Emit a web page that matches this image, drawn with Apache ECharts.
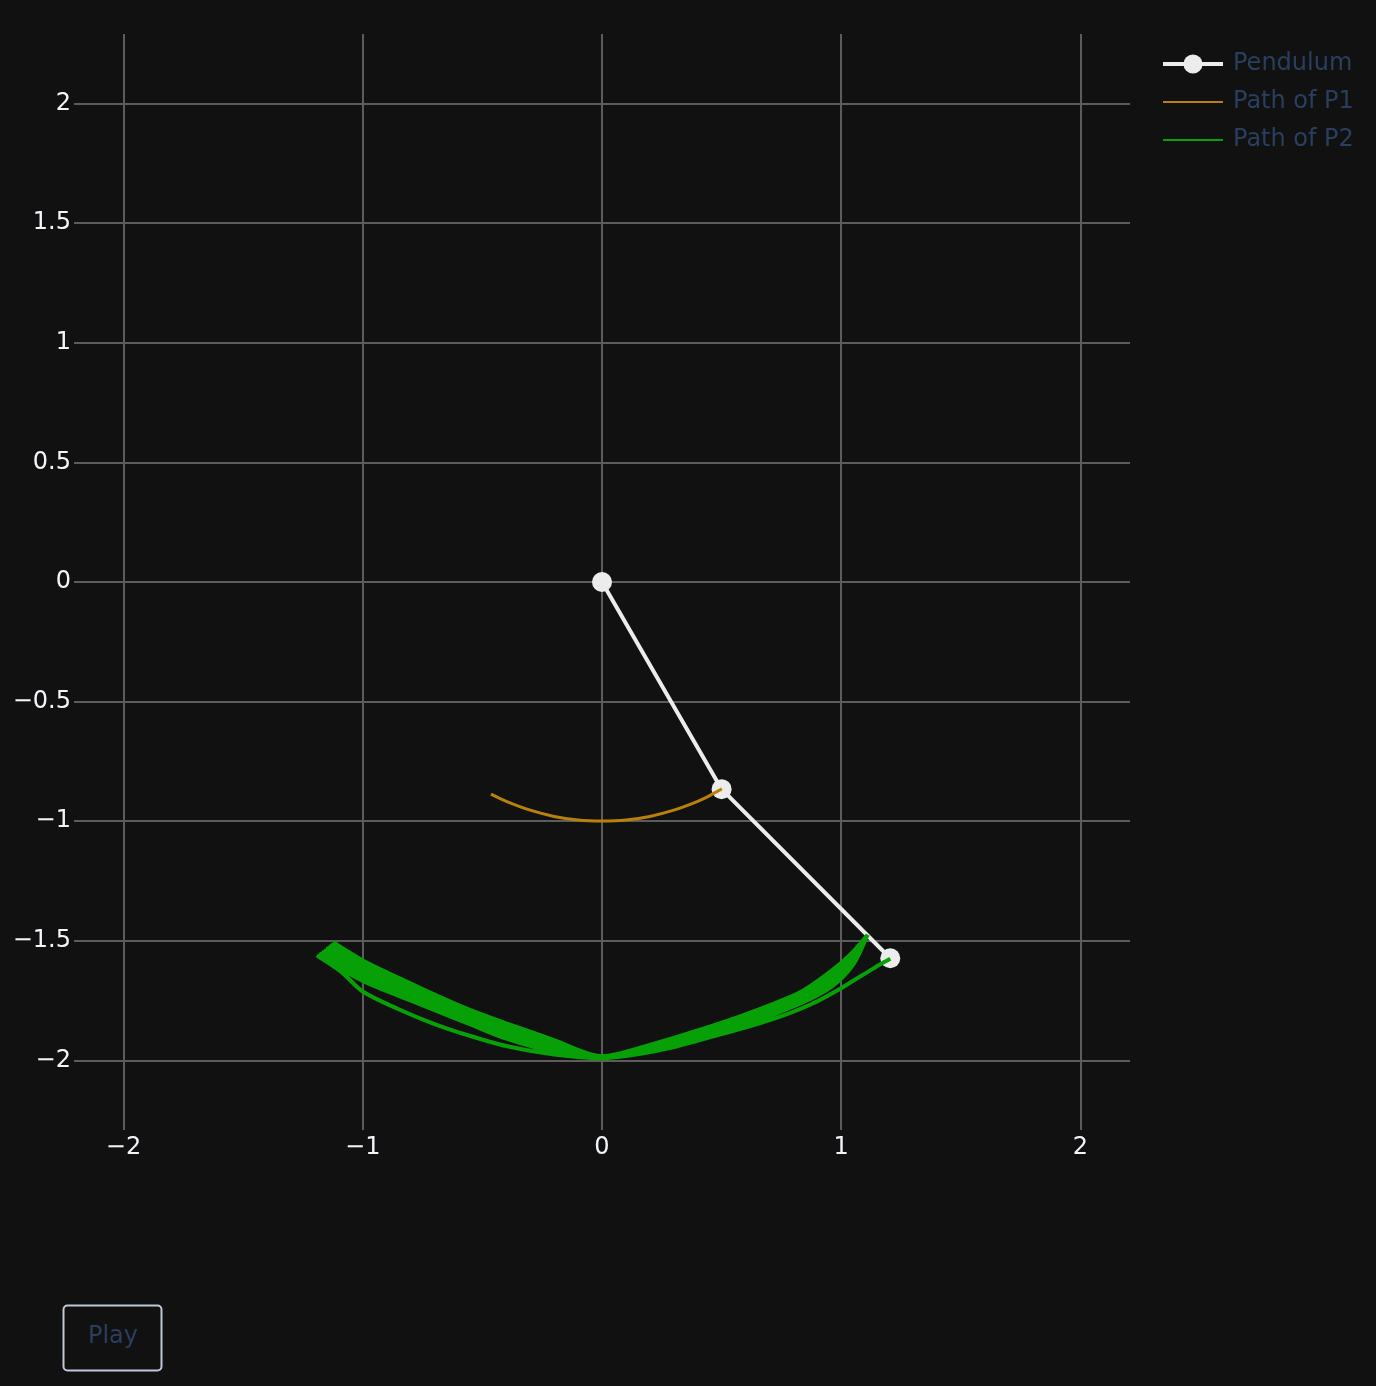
<!DOCTYPE html>
<html>
<head>
<meta charset="utf-8">
<script src="https://cdn.jsdelivr.net/npm/echarts/dist/echarts.min.js"></script>
<style>
html,body{margin:0;padding:0;background:#111111;}
#chart{width:1376px;height:1386px;}
</style>
</head>
<body>
<div id="chart"></div>
<script>
// ---- Data ----
// Pendulum (current frame): pivot, P1, P2
const pendulumX = [0, 0.5, 1.205];
const pendulumY = [0, -0.866, -1.573];

// Path of P1 (arc)
const p1PathX = [0.501, 0.45, 0.4, 0.3, 0.2, 0.1, 0, -0.1, -0.2, -0.3, -0.4, -0.464];
const p1PathY = [-0.865, -0.893, -0.917, -0.954, -0.980, -0.995, -0.999, -0.995, -0.980, -0.954, -0.917, -0.887];

// Path of P2: first swing (from start position, lower bands) to the first left tip
const p2StartX = [1.205, 1.160, 1.108, 1.050, 0.996, 0.885, 0.759, 0.620, 0.481, 0.272, 0.100, 0, -0.200, -0.400, -0.550, -0.700, -0.850, -1.000, -1.090, -1.192];
const p2StartY = [-1.575, -1.600, -1.632, -1.667, -1.700, -1.760, -1.812, -1.857, -1.895, -1.951, -1.982, -1.990, -1.975, -1.940, -1.898, -1.848, -1.786, -1.712, -1.630, -1.561];

// Left turning points of P2
const p2LeftTipX = [-1.192, -1.183, -1.173, -1.164, -1.154, -1.143, -1.134, -1.124];
const p2LeftTipY = [-1.561, -1.553, -1.546, -1.539, -1.530, -1.521, -1.514, -1.506];
// Left-half fan: x samples and y per swing
const p2LeftX = [-1.0, -0.85, -0.7, -0.55, -0.4, -0.2, 0];
const p2LeftY = [
  [-1.668, -1.730, -1.790, -1.850, -1.909, -1.965, -1.992],
  [-1.656, -1.719, -1.781, -1.841, -1.900, -1.958, -1.991],
  [-1.643, -1.708, -1.771, -1.833, -1.891, -1.951, -1.989],
  [-1.631, -1.697, -1.762, -1.824, -1.881, -1.944, -1.988],
  [-1.619, -1.687, -1.752, -1.815, -1.872, -1.937, -1.986],
  [-1.607, -1.676, -1.743, -1.807, -1.863, -1.929, -1.985],
  [-1.594, -1.666, -1.734, -1.798, -1.854, -1.922, -1.983],
  [-1.582, -1.655, -1.725, -1.790, -1.845, -1.915, -1.982]
];
// Right turning points of P2
const p2RightTipX = [1.108, 1.110, 1.107, 1.109, 1.111, 1.108, 1.109];
const p2RightTipY = [-1.478, -1.476, -1.479, -1.477, -1.475, -1.478, -1.476];
// Right-half fan: x samples and y per swing
const p2RightX = [0.2, 0.4, 0.62, 0.83, 0.96, 1.05];
const p2RightY = [
  [-1.956, -1.903, -1.843, -1.762, -1.692, -1.600],
  [-1.953, -1.899, -1.837, -1.755, -1.682, -1.592],
  [-1.950, -1.895, -1.831, -1.748, -1.673, -1.584],
  [-1.947, -1.891, -1.825, -1.741, -1.663, -1.576],
  [-1.944, -1.887, -1.818, -1.735, -1.654, -1.568],
  [-1.941, -1.883, -1.812, -1.728, -1.644, -1.561],
  [-1.938, -1.879, -1.806, -1.721, -1.635, -1.553],
  [-1.935, -1.875, -1.800, -1.714, -1.625, -1.545]
];

const seriesNames = ['Pendulum', 'Path of P1', 'Path of P2'];

// ---- Build library data from the arrays ----
const zip = (xs, ys) => xs.map((x, i) => [x, ys[i]]);
const pendulumData = zip(pendulumX, pendulumY);
const p1Data = zip(p1PathX, p1PathY);
const p2Data = zip(p2StartX, p2StartY);
for (let j = 0; j < p2RightTipX.length; j++) {
  for (let i = 0; i < p2LeftX.length; i++) p2Data.push([p2LeftX[i], p2LeftY[j][i]]);
  for (let i = 0; i < p2RightX.length; i++) p2Data.push([p2RightX[i], p2RightY[j][i]]);
  p2Data.push([p2RightTipX[j], p2RightTipY[j]]);
  for (let i = p2RightX.length - 1; i >= 0; i--) p2Data.push([p2RightX[i], p2RightY[j + 1][i]]);
  for (let i = p2LeftX.length - 1; i >= 0; i--) p2Data.push([p2LeftX[i], p2LeftY[j + 1][i]]);
  p2Data.push([p2LeftTipX[j + 1], p2LeftTipY[j + 1]]);
}

const FONT = '"DejaVu Sans", Verdana, sans-serif';
const fmt = v => String(v).replace('-', '\u2212');

const chart = echarts.init(document.getElementById('chart'), null, {renderer: 'canvas'});
chart.setOption({
  backgroundColor: '#111111',
  animation: false,
  textStyle: {fontFamily: FONT},
  grid: {left: 74, top: 34, width: 1056, height: 1096, containLabel: false},
  xAxis: {
    type: 'value', min: -2.207, max: 2.207, splitNumber: 5, minInterval: 1, maxInterval: 1,
    axisLine: {show: false}, axisTick: {show: false},
    splitLine: {show: true, showMinLine: false, showMaxLine: false, lineStyle: {color: '#5c5c5c', width: 2}},
    axisLabel: {showMinLabel: false, showMaxLabel: false, color: '#f2f5fa', fontSize: 24, fontFamily: FONT, margin: 6, formatter: fmt}
  },
  yAxis: {
    type: 'value', min: -2.291, max: 2.291, splitNumber: 9, minInterval: 0.5, maxInterval: 0.5,
    axisLine: {show: false}, axisTick: {show: false},
    splitLine: {show: true, showMinLine: false, showMaxLine: false, lineStyle: {color: '#5c5c5c', width: 2}},
    axisLabel: {showMinLabel: false, showMaxLabel: false, color: '#f2f5fa', fontSize: 24, fontFamily: FONT, margin: 3, formatter: fmt}
  },
  legend: {
    orient: 'vertical', left: 1161, top: 52, padding: 0,
    itemWidth: 60, itemHeight: 24, itemGap: 14,
    textStyle: {color: '#2a3f5f', fontSize: 24, lineHeight: 24, fontFamily: FONT, padding: [0, 0, 0, 5]},
    data: [
      {name: seriesNames[0], lineStyle: {width: 4}},
      {name: seriesNames[1], itemStyle: {opacity: 0}, lineStyle: {width: 2}},
      {name: seriesNames[2], itemStyle: {opacity: 0}, lineStyle: {width: 2}}
    ]
  },
  series: [
    {
      name: seriesNames[0], type: 'line', data: pendulumData,
      symbol: 'circle', symbolSize: 20, showSymbol: true,
      lineStyle: {color: '#ececec', width: 4}, itemStyle: {color: '#ececec'}, z: 2, silent: true
    },
    {
      name: seriesNames[1], type: 'line', data: p1Data,
      symbol: 'none', showSymbol: false, smooth: 0.3,
      lineStyle: {color: '#b8820a', width: 3}, itemStyle: {color: '#b8820a'}, z: 3, silent: true
    },
    {
      name: seriesNames[2], type: 'line', data: p2Data,
      symbol: 'none', showSymbol: false, smooth: 0.3,
      lineStyle: {color: '#07a007', width: 4}, itemStyle: {color: '#07a007'}, z: 4, silent: true
    }
  ],
  graphic: [
    {type: 'rect', left: 61, top: 1303, shape: {width: 98, height: 65, r: 4},
     style: {fill: 'none', stroke: '#bec8d9', lineWidth: 2}},
    {type: 'text', x: 113, y: 1337,
     style: {text: 'Play', fill: '#2a3f5f', font: '24px ' + FONT, textAlign: 'center', textVerticalAlign: 'middle', align: 'center', verticalAlign: 'middle'}}
  ]
});
</script>
</body>
</html>
